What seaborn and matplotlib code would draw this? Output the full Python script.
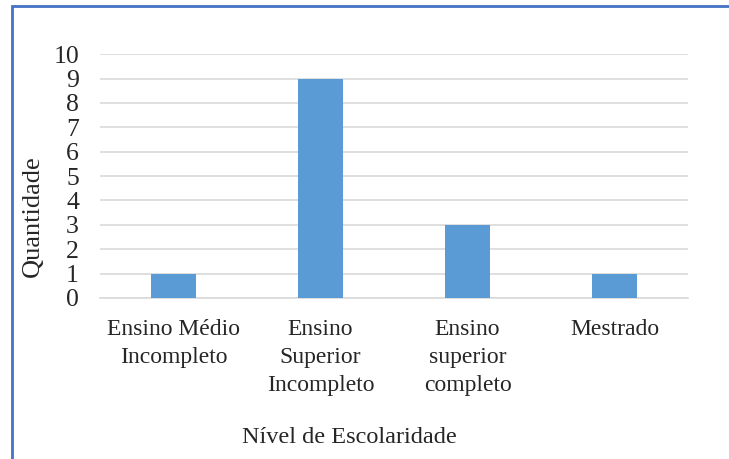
import pandas as pd
import matplotlib.pyplot as plt
import matplotlib.patches as patches
import seaborn as sns

categorias = [
    "Ensino Médio\nIncompleto",
    "Ensino\nSuperior\nIncompleto",
    "Ensino\nsuperior\ncompleto",
    "Mestrado",
]
quantidade = [1, 9, 3, 1]
yticks = list(range(0, 11))

df = pd.DataFrame({"Nível de Escolaridade": categorias, "Quantidade": quantidade})

sns.set_style("white")
plt.rcParams['font.family'] = ['Liberation Serif', 'DejaVu Serif']

fig = plt.figure(figsize=(7.29, 4.59), dpi=100)
ax = fig.add_axes([0.137, 0.351, 0.807, 0.531])

sns.barplot(data=df, x="Nível de Escolaridade", y="Quantidade", color="#5B9BD5",
            width=0.31, saturation=1, linewidth=0, ax=ax, zorder=3)

ax.set_ylim(0, 10)
ax.set_yticks(yticks)
ax.set_xlim(-0.5, 3.5)
ax.yaxis.grid(True, color="#D9D9D9", linewidth=1.2, zorder=0)
ax.set_axisbelow(True)
for s in ["top", "right", "left"]:
    ax.spines[s].set_visible(False)
ax.spines["bottom"].set_color("#D9D9D9")
ax.spines["bottom"].set_linewidth(1.2)
ax.tick_params(axis="y", length=0, pad=15, labelsize=18.5)
ax.tick_params(axis="x", length=0, pad=15, labelsize=17)
for lbl in ax.get_xticklabels():
    lbl.set_linespacing(1.45)

ax.set_xlabel("Nível de Escolaridade", fontsize=17.5)
ax.xaxis.set_label_coords((349 - 100) / 588, (298 - 438) / 244, transform=ax.transAxes)
ax.xaxis.label.set_va("center")
ax.set_ylabel("Quantidade", fontsize=19)
ax.yaxis.set_label_coords((33 - 100) / 588, (298 - 216) / 244, transform=ax.transAxes)
ax.yaxis.label.set_va("center")

fig.patches.append(patches.Rectangle((12 / 729, -0.1), 1.2, 1.1 - 6 / 459,
                                     transform=fig.transFigure, fill=False,
                                     edgecolor="#4472C4", linewidth=2))

fig.savefig("out.png", dpi=100)
